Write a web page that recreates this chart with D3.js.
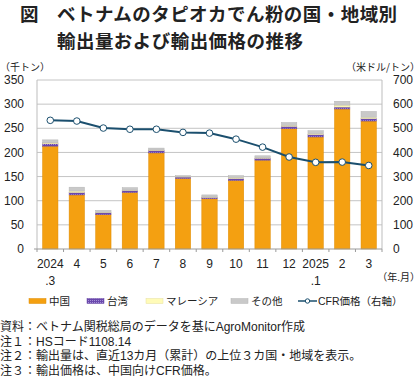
<!DOCTYPE html>
<html>
<head>
  <meta charset="utf-8">
  <title>ベトナムのタピオカでん粉</title>
  <style>
  body {
    margin: 0;
    background: #fff;
  }
  text {
    font-family: "Liberation Sans", Arial, "Noto Sans CJK JP", sans-serif;
    fill: #222;
  }
  text.jp {
    font-family: "Noto Sans CJK JP", sans-serif;
  }
</style>
</head>
<body>
  <div id="viz"></div>

  <script src="https://d3js.org/d3.v7.min.js"></script>
  <script>
    // data (thousand tonnes, USD/t)
    const months = ["2024\n.3", "4", "5", "6", "7", "8", "9", "10", "11", "12", "2025\n.1", "2", "3"];
    const china = [213, 112, 71, 117, 199, 146, 104, 142, 184, 249, 232, 290, 265];
    const taiwan = [5, 5, 4, 4, 5, 3, 3, 4, 4, 5, 5, 4, 5];
    const malaysia = [2, 3, 1, 1, 1, 1, 1, 2, 1, 2, 2, 4, 3];
    const others = [6, 8, 4, 5, 4, 2, 4, 4, 4, 6, 6, 8, 12];
    const cfrPrice = [533, 530, 501, 496, 496, 483, 480, 455, 422, 381, 359, 360, 346];

    const seriesNames = ["中国", "台湾", "マレーシア", "その他"];
    const seriesColors = ["#f4a011", "url(#purpleDots)", "#fffbb8", "#c9c9c9"];
    const seriesStroke = ["#e08c00", "#6b4aa6", "#e6e0a0", "#b5b5b5"];
    const leftTicks = [0, 50, 100, 150, 200, 250, 300, 350];
    const rightTicks = [0, 100, 200, 300, 400, 500, 600, 700];

    const footnotes = [
      "資料：ベトナム関税総局のデータを基にAgroMonitor作成",
      "注１：HSコード1108.14",
      "注２：輸出量は、直近13カ月（累計）の上位３カ国・地域を表示。",
      "注３：輸出価格は、中国向けCFR価格。"
    ];

    let svgWidth = 420;
    let svgHeight = 378;
    let margin = {"top": 80, "left": 37, "right": 38, "bottom": 129};
    let width = svgWidth - margin.left - margin.right;
    let height = svgHeight - margin.top - margin.bottom;

    let svg = d3.select("#viz")
      .append("svg")
      .attr("width", svgWidth)
      .attr("height", svgHeight);

    // dotted purple fill for Taiwan
    let defs = svg.append("defs");
    let pat = defs.append("pattern")
      .attr("id", "purpleDots")
      .attr("width", 2)
      .attr("height", 2)
      .attr("patternUnits", "userSpaceOnUse");
    pat.append("rect").attr("width", 2).attr("height", 2).attr("fill", "#6a48ad");
    pat.append("rect").attr("width", 1).attr("height", 1).attr("fill", "#a58fd6");

    // title
    let titleStyle = t => t.attr("class", "jp")
      .style("font-size", "18.5px")
      .style("font-weight", "bold")
      .style("letter-spacing", "0.45px");
    svg.append("text").call(titleStyle)
      .attr("x", 20).attr("y", 21)
      .text("図");
    svg.append("text").call(titleStyle)
      .attr("x", 57).attr("y", 21)
      .text("ベトナムのタピオカでん粉の国・地域別");
    svg.append("text").call(titleStyle)
      .attr("x", 57).attr("y", 48)
      .text("輸出量および輸出価格の推移");

    // unit labels
    svg.append("text").attr("class", "jp")
      .attr("x", 0).attr("y", 71)
      .style("font-size", "10px")
      .text("（千トン）");
    svg.append("text").attr("class", "jp")
      .attr("x", 420).attr("y", 71)
      .attr("text-anchor", "end")
      .style("font-size", "10px")
      .text("（米ドル/トン）");

    let g = svg.append("g")
      .attr("transform", `translate(${margin.left},${margin.top})`);

    // scales
    let x = d3.scaleBand()
      .domain(months)
      .range([0, width])
      .paddingInner(0.42)
      .paddingOuter(0.21);
    let y = d3.scaleLinear().domain([0, 350]).range([height, 0]);
    let y2 = d3.scaleLinear().domain([0, 700]).range([height, 0]);

    // gridlines
    g.append("g")
      .selectAll("line")
      .data(leftTicks.slice(1))
      .join("line")
      .attr("x1", 0).attr("x2", width)
      .attr("y1", d => y(d)).attr("y2", d => y(d))
      .attr("stroke", "#c4c4c4")
      .attr("stroke-width", 1);

    // side axis lines
    g.append("line").attr("x1", 0).attr("x2", 0).attr("y1", 0).attr("y2", height)
      .attr("stroke", "#bdbdbd");
    g.append("line").attr("x1", width).attr("x2", width).attr("y1", 0).attr("y2", height)
      .attr("stroke", "#bdbdbd");

    // stacked bars
    let table = months.map((m, i) => ({
      month: m, china: china[i], taiwan: taiwan[i], malaysia: malaysia[i], others: others[i]
    }));
    let stack = d3.stack().keys(["china", "taiwan", "malaysia", "others"]);
    let layers = stack(table);

    g.append("g")
      .selectAll("g")
      .data(layers)
      .join("g")
      .attr("fill", (d, i) => seriesColors[i])
      .attr("stroke", (d, i) => seriesStroke[i])
      .attr("stroke-width", 0.5)
      .selectAll("rect")
      .data(d => d)
      .join("rect")
      .attr("x", d => x(d.data.month))
      .attr("y", d => y(d[1]))
      .attr("width", x.bandwidth())
      .attr("height", d => y(d[0]) - y(d[1]));

    // x axis
    let xAxis = g.append("g").attr("transform", `translate(0,${height})`);
    xAxis.append("line")
      .attr("x1", -3).attr("x2", width)
      .attr("stroke", "#9a9a9a");
    let bounds = d3.range(months.length + 1).map(i => i * x.step());
    xAxis.selectAll(".tick")
      .data(bounds)
      .join("line")
      .attr("x1", d => d).attr("x2", d => d)
      .attr("y1", 0).attr("y2", 3)
      .attr("stroke", "#9a9a9a");

    let xl = xAxis.selectAll(".xlab")
      .data(months)
      .join("text")
      .attr("text-anchor", "middle")
      .style("font-size", "12px");
    xl.each(function(d) {
      let parts = d.split("\n");
      let t = d3.select(this);
      parts.forEach((p, k) => {
        t.append("tspan")
          .attr("x", x(d) + x.bandwidth() / 2)
          .attr("y", 19 + k * 17)
          .text(p);
      });
    });

    svg.append("text").attr("class", "jp")
      .attr("x", 420).attr("y", 281)
      .attr("text-anchor", "end")
      .style("font-size", "10px")
      .text("（年.月）");

    // left tick labels
    g.append("g")
      .selectAll("text")
      .data(leftTicks)
      .join("text")
      .attr("x", -13)
      .attr("y", d => y(d))
      .attr("dy", "0.35em")
      .attr("text-anchor", "end")
      .style("font-size", "12px")
      .text(d => d);

    // right tick labels
    g.append("g")
      .selectAll("text")
      .data(rightTicks)
      .join("text")
      .attr("x", width + 11)
      .attr("y", d => y2(d))
      .attr("dy", "0.35em")
      .style("font-size", "12px")
      .text(d => d);

    // CFR price line
    let cx = (d, i) => x(months[i]) + x.bandwidth() / 2;
    let line = d3.line()
      .x(cx)
      .y(d => y2(d));
    g.append("path")
      .datum(cfrPrice)
      .attr("d", line)
      .attr("fill", "none")
      .attr("stroke", "#1b4f6e")
      .attr("stroke-width", 2);
    g.append("g")
      .selectAll("circle")
      .data(cfrPrice)
      .join("circle")
      .attr("cx", cx)
      .attr("cy", d => y2(d))
      .attr("r", 3.3)
      .attr("fill", "#fff")
      .attr("stroke", "#1b4f6e")
      .attr("stroke-width", 1);

    // legend
    let legendX = [29, 87, 146, 231];
    let legendY = 301;
    let lg = svg.append("g");
    seriesNames.forEach((name, i) => {
      lg.append("rect")
        .attr("x", legendX[i]).attr("y", legendY - 2.5)
        .attr("width", 17).attr("height", 5)
        .attr("fill", seriesColors[i])
        .attr("stroke", seriesStroke[i])
        .attr("stroke-width", 0.5);
      lg.append("text").attr("class", "jp")
        .attr("x", legendX[i] + 20).attr("y", legendY)
        .attr("dy", "0.36em")
        .style("font-size", "10.5px")
        .text(name);
    });
    lg.append("line")
      .attr("x1", 298).attr("x2", 317)
      .attr("y1", legendY).attr("y2", legendY)
      .attr("stroke", "#1b4f6e").attr("stroke-width", 1.5);
    lg.append("circle")
      .attr("cx", 307.5).attr("cy", legendY).attr("r", 2.2)
      .attr("fill", "#fff").attr("stroke", "#1b4f6e");
    lg.append("text")
      .attr("x", 318).attr("y", legendY)
      .attr("dy", "0.36em")
      .style("font-size", "10.5px")
      .text("CFR価格（右軸）");

    // footnotes
    svg.append("g")
      .selectAll("text")
      .data(footnotes)
      .join("text")
      .attr("x", 0)
      .attr("y", (d, i) => 327 + i * 14.5)
      .attr("dy", "0.36em")
      .style("font-size", "12px")
      .text(d => d);
  </script>
</body>
</html>
